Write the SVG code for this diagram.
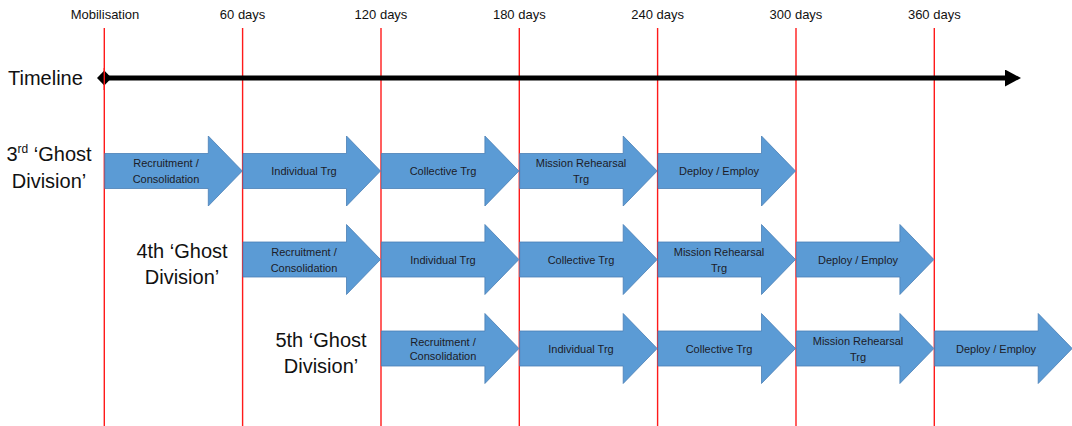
<svg xmlns="http://www.w3.org/2000/svg" xmlns:xlink="http://www.w3.org/1999/xlink" width="1072" height="426" viewBox="0 0 1072 426">
<style>
.vl{stroke:#ff1a1a;stroke-width:1.4;fill:none}
.day{font-family:"Liberation Sans",Arial,sans-serif;font-size:13px;fill:#111;text-anchor:middle}
.big{font-family:"Liberation Sans",Arial,sans-serif;font-size:20px;fill:#111}
.div{font-family:"Liberation Sans",Arial,sans-serif;font-size:20px;fill:#111;text-anchor:middle}
.at{font-family:"Liberation Sans",Arial,sans-serif;font-size:11px;fill:#1c1c28;text-anchor:middle}
.arr{fill:#5b9bd5;stroke:#4a7fb5;stroke-width:0.8}
</style>
<defs>
<path id="a" d="M0,-17.5 H103.5 V-35 L137.5,0 L103.5,35 V17.5 H0 Z"/>
<marker id="ah" markerWidth="3.2" markerHeight="3.4" refX="0" refY="2" orient="auto" markerUnits="strokeWidth" viewBox="0 0 4 4" preserveAspectRatio="none"><path d="M0,0 L4,2 L0,4 Z" fill="#000"/></marker>
</defs>
<rect width="1072" height="426" fill="#fff"/>
<g id="gridlines">
<line class="vl" x1="104.3" y1="28" x2="104.3" y2="426"/>
<line class="vl" x1="242.6" y1="28" x2="242.6" y2="426"/>
<line class="vl" x1="381" y1="28" x2="381" y2="426"/>
<line class="vl" x1="519.3" y1="28" x2="519.3" y2="426"/>
<line class="vl" x1="657.6" y1="28" x2="657.6" y2="426"/>
<line class="vl" x1="796" y1="28" x2="796" y2="426"/>
<line class="vl" x1="934.3" y1="28" x2="934.3" y2="426"/>
</g>
<g id="day-labels">
<text class="day" x="105" y="19">Mobilisation</text>
<text class="day" x="242.6" y="19">60 days</text>
<text class="day" x="381" y="19">120 days</text>
<text class="day" x="519.3" y="19">180 days</text>
<text class="day" x="657.6" y="19">240 days</text>
<text class="day" x="796" y="19">300 days</text>
<text class="day" x="934.3" y="19">360 days</text>
</g>
<g id="timeline">
<text class="big" x="8" y="85">Timeline</text>
<line x1="104" y1="78" x2="1005" y2="78" stroke="#000" stroke-width="5" marker-end="url(#ah)"/>
<path d="M97,78 L104.3,70.5 L111.5,78 L104.3,85.5 Z" fill="#000"/>
<line class="vl" x1="104.3" y1="68" x2="104.3" y2="90"/>
</g>
<g id="labels">
<text class="div" x="49" y="160.7">3<tspan font-size="12" dy="-8">rd</tspan><tspan dy="8"> ‘Ghost</tspan></text>
<text class="div" x="49" y="187.7">Division’</text>
<text class="div" x="182" y="257.7">4th ‘Ghost</text>
<text class="div" x="182" y="284">Division’</text>
<text class="div" x="321" y="347">5th ‘Ghost</text>
<text class="div" x="321" y="373">Division’</text>
</g>
<g id="row1">
<g id="r1a1"><use xlink:href="#a" class="arr" x="104.8" y="171"/><text class="at" x="166" y="167">Recruitment /</text><text class="at" x="166" y="183">Consolidation</text></g>
<g id="r1a2"><use xlink:href="#a" class="arr" x="243" y="171"/><text class="at" x="304" y="175">Individual Trg</text></g>
<g id="r1a3"><use xlink:href="#a" class="arr" x="381.4" y="171"/><text class="at" x="443" y="175">Collective Trg</text></g>
<g id="r1a4"><use xlink:href="#a" class="arr" x="519.7" y="171"/><text class="at" x="581" y="167">Mission Rehearsal</text><text class="at" x="581" y="183">Trg</text></g>
<g id="r1a5"><use xlink:href="#a" class="arr" x="658" y="171"/><text class="at" x="719" y="175">Deploy / Employ</text></g>
</g>
<g id="row2">
<g id="r2a1"><use xlink:href="#a" class="arr" x="243" y="259.5"/><text class="at" x="304" y="256">Recruitment /</text><text class="at" x="304" y="271.7">Consolidation</text></g>
<g id="r2a2"><use xlink:href="#a" class="arr" x="381.4" y="259.5"/><text class="at" x="443" y="263.5">Individual Trg</text></g>
<g id="r2a3"><use xlink:href="#a" class="arr" x="519.7" y="259.5"/><text class="at" x="581" y="263.5">Collective Trg</text></g>
<g id="r2a4"><use xlink:href="#a" class="arr" x="658" y="259.5"/><text class="at" x="719" y="256">Mission Rehearsal</text><text class="at" x="719" y="271.7">Trg</text></g>
<g id="r2a5"><use xlink:href="#a" class="arr" x="796.4" y="259.5"/><text class="at" x="858" y="263.5">Deploy / Employ</text></g>
</g>
<g id="row3">
<g id="r3a1"><use xlink:href="#a" class="arr" x="381.4" y="348.5"/><text class="at" x="443" y="345.5">Recruitment /</text><text class="at" x="443" y="360">Consolidation</text></g>
<g id="r3a2"><use xlink:href="#a" class="arr" x="519.7" y="348.5"/><text class="at" x="581" y="352.5">Individual Trg</text></g>
<g id="r3a3"><use xlink:href="#a" class="arr" x="658" y="348.5"/><text class="at" x="719" y="352.5">Collective Trg</text></g>
<g id="r3a4"><use xlink:href="#a" class="arr" x="796.4" y="348.5"/><text class="at" x="858" y="345">Mission Rehearsal</text><text class="at" x="858" y="360.5">Trg</text></g>
<g id="r3a5"><use xlink:href="#a" class="arr" x="934.7" y="348.5"/><text class="at" x="996" y="352.5">Deploy / Employ</text></g>
</g>
</svg>
